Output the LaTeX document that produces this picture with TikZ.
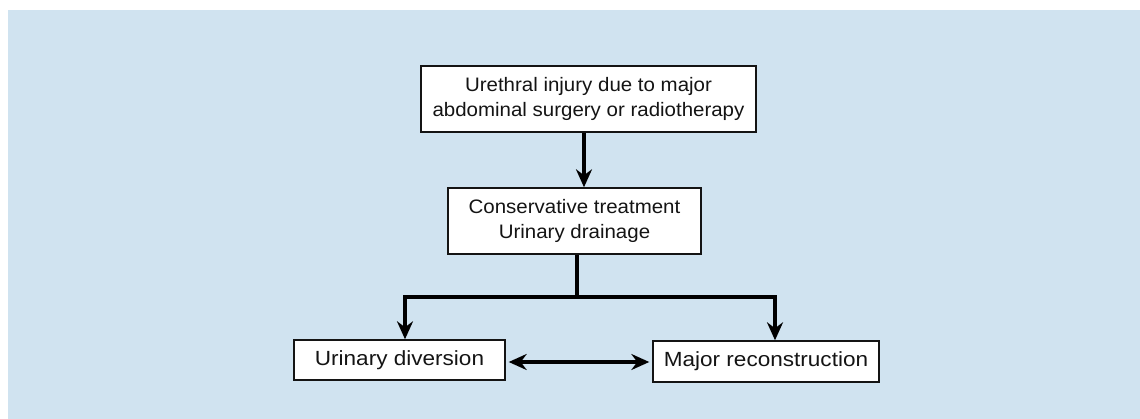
\documentclass[tikz,border=0pt]{standalone}
\usepackage{fontspec}
\setmainfont{Liberation Sans}[FakeStretch=1.05]
\newfontfamily\widefont{Liberation Sans}[FakeStretch=1.1]
\usetikzlibrary{arrows.meta}
\definecolor{bgblue}{RGB}{208,227,240}
\definecolor{ink}{RGB}{20,20,20}
\tikzset{
  box/.style={draw=ink, line width=1.4pt, fill=white, inner sep=0pt, align=center,
    font=\fontsize{19.5}{25}\selectfont, text=ink},
  lowbox/.style={box, font=\widefont\fontsize{20.5}{25}\selectfont},
  conn/.style={draw=black, line width=3.2pt},
  arr/.style={conn, -{Stealth[length=18pt, width=16pt, inset=6pt]}},
  darr/.style={conn, {Stealth[length=18pt, width=16pt, inset=6pt]}-{Stealth[length=18pt, width=16pt, inset=6pt]}}
}
\begin{document}
\begin{tikzpicture}[x=1pt,y=-1pt]
\useasboundingbox (0,0) rectangle (1140,419);
\fill[bgblue] (8,10) rectangle (1140,419);
\node[box, minimum width=335pt, minimum height=66pt] (top) at (588.5,99) {Urethral injury due to major\\abdominal surgery or radiotherapy};
\node[box, minimum width=253pt, minimum height=66pt] (mid) at (574.5,221) {Conservative treatment\\Urinary drainage};
\node[lowbox, minimum width=211pt, minimum height=40pt] (left) at (399.5,360) {Urinary diversion};
\node[lowbox, minimum width=226pt, minimum height=41pt] (right) at (766,361.5) {Major reconstruction};
\coordinate (a) at (584,0);
\coordinate (b) at (577,297);
\coordinate (bl) at (405,297);
\coordinate (br) at (775,297);
\coordinate (dl) at (508,362);
\coordinate (dr) at (650,362);
\draw[arr] (top.south -| a) -- (mid.north -| a);
\draw[conn] (mid.south -| b) -- (b);
\draw[arr] (br) -- (bl) -- (left.north -| bl);
\draw[arr] (bl) -- (br) -- (right.north -| br);
\draw[darr] (left.east |- dl) ++(3,0) -- ([xshift=-3pt]right.west |- dr);
\end{tikzpicture}
\end{document}
